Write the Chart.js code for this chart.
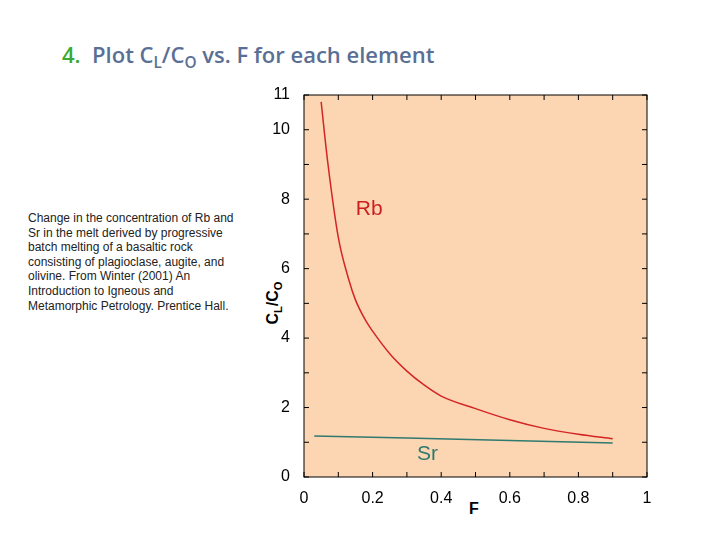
<!DOCTYPE html>
<html><head><meta charset="utf-8">
<script src="https://cdn.jsdelivr.net/npm/chart.js@4"></script>
<style>
body{margin:0;width:720px;height:540px;background:#fff;position:relative;overflow:hidden;font-family:"Liberation Sans",Arial,sans-serif}
#t{position:absolute;left:62px;top:39px;font-family:"Open Sans","Noto Sans",sans-serif;font-size:22px;color:#5a6f95;white-space:nowrap;font-weight:600}
#t b{color:#3aa832;font-weight:600}
#cap{position:absolute;left:28px;top:211px;width:212px;font-size:12px;line-height:14.6px;color:#222;font-family:"Liberation Sans",Arial,sans-serif}
#yt{position:absolute;left:274px;top:303px;transform:translate(-50%,-50%) rotate(-90deg);font-weight:bold;font-size:16px;white-space:nowrap}
#xt{position:absolute;left:469px;top:500px;font-weight:bold;font-size:16px}
sub{font-size:70%}
canvas{position:absolute;left:0;top:0}
</style></head><body>
<div id="t"><b>4.</b>&nbsp; Plot C<sub>L</sub>/C<sub>O</sub> vs. F for each element</div>
<div id="cap">Change in the concentration of Rb and Sr in the melt derived by progressive batch melting of a basaltic rock consisting of plagioclase, augite, and olivine. From Winter (2001) An Introduction to Igneous and Metamorphic Petrology. Prentice Hall.</div>
<div id="yt">C<sub>L</sub>/C<sub>O</sub></div>
<div id="xt">F</div>
<canvas id="c" width="720" height="540"></canvas>
<script>
const rbF = [0.05,0.07,0.1,0.13,0.15,0.18,0.2,0.25,0.3,0.35,0.4,0.5,0.6,0.7,0.8,0.9];
const rbV = [10.8,9.0,6.9,5.7,5.1,4.5,4.2,3.55,3.05,2.65,2.33,1.97,1.65,1.4,1.23,1.1];
const srF = [0.03,0.3,0.6,0.9];
const srV = [1.18,1.12,1.05,0.98];
const labels = [{text:'Rb',f:0.19,v:7.7,color:'#cc1f1f'},{text:'Sr',f:0.36,v:0.65,color:'#2f7a6e'}];
const toXY=(xs,ys)=>xs.map((x,i)=>({x,y:ys[i]}));
const FF='Liberation Sans, Arial, sans-serif';
const deco={id:'deco',
 beforeDraw(c){const a=c.chartArea,g=c.ctx;g.save();g.fillStyle='#fcd6b2';g.fillRect(a.left,a.top,a.right-a.left,a.bottom-a.top);g.restore();},
 afterDraw(c){const a=c.chartArea,g=c.ctx,x=c.scales.x,y=c.scales.y;g.save();g.strokeStyle='#000';g.lineWidth=1;
  g.strokeRect(a.left,a.top,a.right-a.left,a.bottom-a.top);g.beginPath();
  for(let i=0;i<=10;i++){const px=x.getPixelForValue(i/10);g.moveTo(px,a.bottom);g.lineTo(px,a.bottom-5);g.moveTo(px,a.top);g.lineTo(px,a.top+5);}
  for(let i=0;i<=11;i++){const py=y.getPixelForValue(i);g.moveTo(a.left,py);g.lineTo(a.left+5,py);g.moveTo(a.right,py);g.lineTo(a.right-5,py);}
  g.stroke();g.font='21px '+FF;g.textAlign='center';g.textBaseline='middle';
  labels.forEach(l=>{g.fillStyle=l.color;g.fillText(l.text,x.getPixelForValue(l.f),y.getPixelForValue(l.v));});
  g.restore();}};
new Chart(document.getElementById('c'),{type:'scatter',
 data:{datasets:[
  {data:toXY(rbF,rbV),showLine:true,borderColor:'#d42525',borderWidth:1.5,pointRadius:0,cubicInterpolationMode:'monotone'},
  {data:toXY(srF,srV),showLine:true,borderColor:'#2f7a6e',borderWidth:1.5,pointRadius:0}]},
 options:{responsive:false,animation:false,events:[],
  layout:{padding:{top:95,right:73,left:0,bottom:0}},
  plugins:{legend:{display:false},tooltip:{enabled:false}},
  scales:{
   x:{type:'linear',min:0,max:1,afterFit:s=>{s.height=63},grid:{display:false},border:{display:false},
      ticks:{stepSize:0.2,maxRotation:0,color:'#000',font:{size:16,family:FF},padding:4,callback:v=>String(Math.round(v*10)/10)}},
   y:{min:0,max:11,afterFit:s=>{s.width=304},grid:{display:false},border:{display:false},
      ticks:{stepSize:2,color:'#000',font:{size:16,family:FF},padding:6,callback:v=>String(v)}}
  }},
 plugins:[deco]});
</script></body></html>
